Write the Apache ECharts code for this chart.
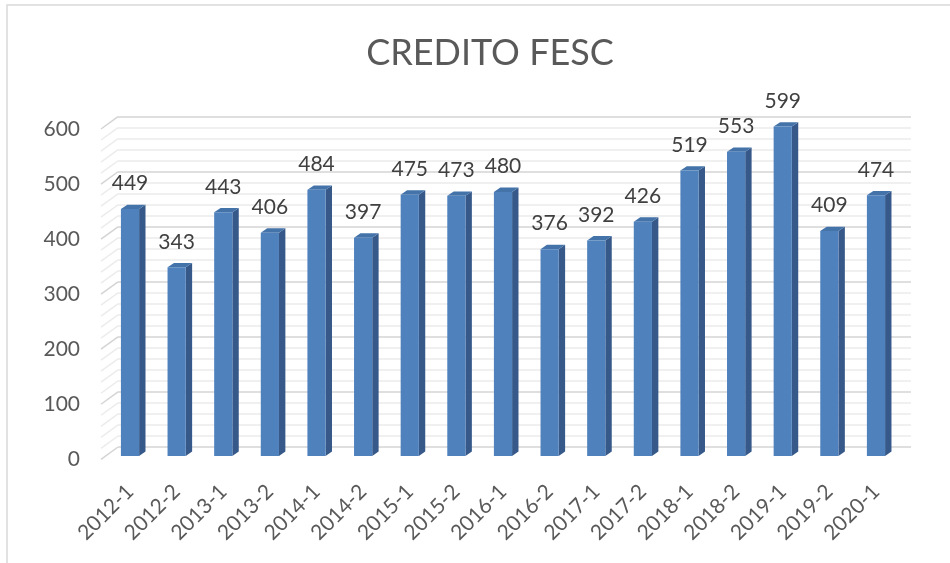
<!DOCTYPE html>
<html>
<head>
<meta charset="utf-8">
<script src="https://cdn.jsdelivr.net/npm/echarts@6/dist/echarts.min.js"></script>
<style>
  html, body { margin: 0; padding: 0; background: #fff; }
  #chart { width: 950px; height: 563px; }
</style>
</head>
<body>
<div id="chart"></div>
<script>
// periodos y valores
const periodos = ['2012-1', '2012-2', '2013-1', '2013-2', '2014-1', '2014-2', '2015-1', '2015-2', '2016-1',
  '2016-2', '2017-1', '2017-2', '2018-1', '2018-2', '2019-1', '2019-2', '2020-1'];
const creditos = [449, 343, 443, 406, 484, 397, 475, 473, 480, 376, 392, 426, 519, 553, 599, 409, 474];
const yMax = 600;
const yStep = 100;
const yMinor = 5;

const font = 'Lato';
const depth = [17, 12.3];   // pared de fondo -> plano frontal
const barDepth = [6.4, 4.4];

var chart = echarts.init(document.getElementById('chart'));

function wallSides(params, api) {
  const cs = params.coordSys;
  const kids = [];
  const step = yStep / yMinor;
  for (let t = 0; t <= yMax; t += step) {
    const p = api.coord([0, t]);
    const major = t % yStep === 0;
    kids.push({
      type: 'line',
      shape: { x1: cs.x - depth[0], y1: p[1] + depth[1], x2: cs.x, y2: p[1] },
      style: { stroke: major ? '#d4d4d4' : '#ececec', lineWidth: 1.5 }
    });
  }
  return { type: 'group', children: kids };
}

function bar3d(params, api) {
  const i = api.value(0);
  const v = api.value(1);
  const base = api.coord([i, 0]);
  const top = api.coord([i, v]);
  const bw = api.size([1, 0])[0] * 0.39;
  const x0 = base[0] - bw / 2;
  const x1 = x0 + bw;
  const dx = barDepth[0], dy = barDepth[1];
  return {
    type: 'group',
    children: [
      {
        type: 'polygon',
        shape: { points: [[x1, top[1]], [x1 + dx, top[1] - dy], [x1 + dx, base[1] - dy], [x1, base[1]]] },
        style: { fill: '#36598a' }
      },
      {
        type: 'polygon',
        shape: { points: [[x0, top[1]], [x0 + dx, top[1] - dy], [x1 + dx, top[1] - dy], [x1, top[1]]] },
        style: { fill: '#4473aa' }
      },
      {
        type: 'rect',
        shape: { x: x0, y: top[1], width: bw, height: base[1] - top[1] },
        style: { fill: '#4f81bd' }
      },
      {
        type: 'text',
        style: {
          text: String(v), x: base[0], y: top[1] - 25.5,
          align: 'center', verticalAlign: 'middle',
          font: '21px ' + font, fill: '#404040'
        }
      }
    ]
  };
}

option = {
  backgroundColor: '#fff',
  animation: false,
  title: {
    text: 'CREDITO FESC',
    left: 485, top: 30, textAlign: 'center',
    textStyle: { fontFamily: font, fontSize: 36, fontWeight: 'normal', color: '#595959' }
  },
  graphic: [{
    type: 'rect', z: -10,
    shape: { x: 7, y: 5, width: 960, height: 600 },
    style: { fill: 'none', stroke: '#d9d9d9', lineWidth: 1.5 }
  }],
  grid: [
    // pared de fondo
    { left: 118, top: 116.7, width: 793, height: 330.3, outerBoundsMode: 'none' },
    // barras
    { left: 106.7, top: 126, width: 792.6, height: 330, outerBoundsMode: 'none' },
    // plano frontal (etiquetas)
    { left: 101, top: 129, width: 793, height: 330.3, outerBoundsMode: 'none' }
  ],
  xAxis: [
    { gridIndex: 0, type: 'category', data: periodos, show: false },
    {
      gridIndex: 1, type: 'category', data: periodos,
      axisLine: { show: false }, axisTick: { show: false },
      axisLabel: { interval: 0, rotate: 45, margin: 32, fontFamily: font, fontSize: 21, color: '#595959' }
    },
    { gridIndex: 2, type: 'category', data: periodos, show: false }
  ],
  yAxis: [
    {
      gridIndex: 0, type: 'value', min: 0, max: yMax, interval: yStep,
      axisLine: { show: false }, axisTick: { show: false }, axisLabel: { show: false },
      splitLine: { show: true, lineStyle: { color: '#d4d4d4', width: 1.5 } },
      minorTick: { show: false, splitNumber: yMinor },
      minorSplitLine: { show: true, lineStyle: { color: '#ececec', width: 1.5 } }
    },
    { gridIndex: 1, type: 'value', min: 0, max: yMax, interval: yStep, show: false },
    {
      gridIndex: 2, type: 'value', min: 0, max: yMax, interval: yStep,
      axisLine: { show: false }, axisTick: { show: false }, splitLine: { show: false },
      axisLabel: { margin: 21, fontFamily: font, fontSize: 21, color: '#595959' }
    }
  ],
  series: [
    {
      type: 'custom', xAxisIndex: 0, yAxisIndex: 0, z: 1, silent: true,
      renderItem: wallSides, data: [[0, 0]]
    },
    {
      type: 'custom', name: 'CREDITO FESC', xAxisIndex: 1, yAxisIndex: 1, z: 3,
      renderItem: bar3d,
      data: creditos.map((v, i) => [i, v])
    }
  ]
};
chart.setOption(option);
</script>
</body>
</html>
